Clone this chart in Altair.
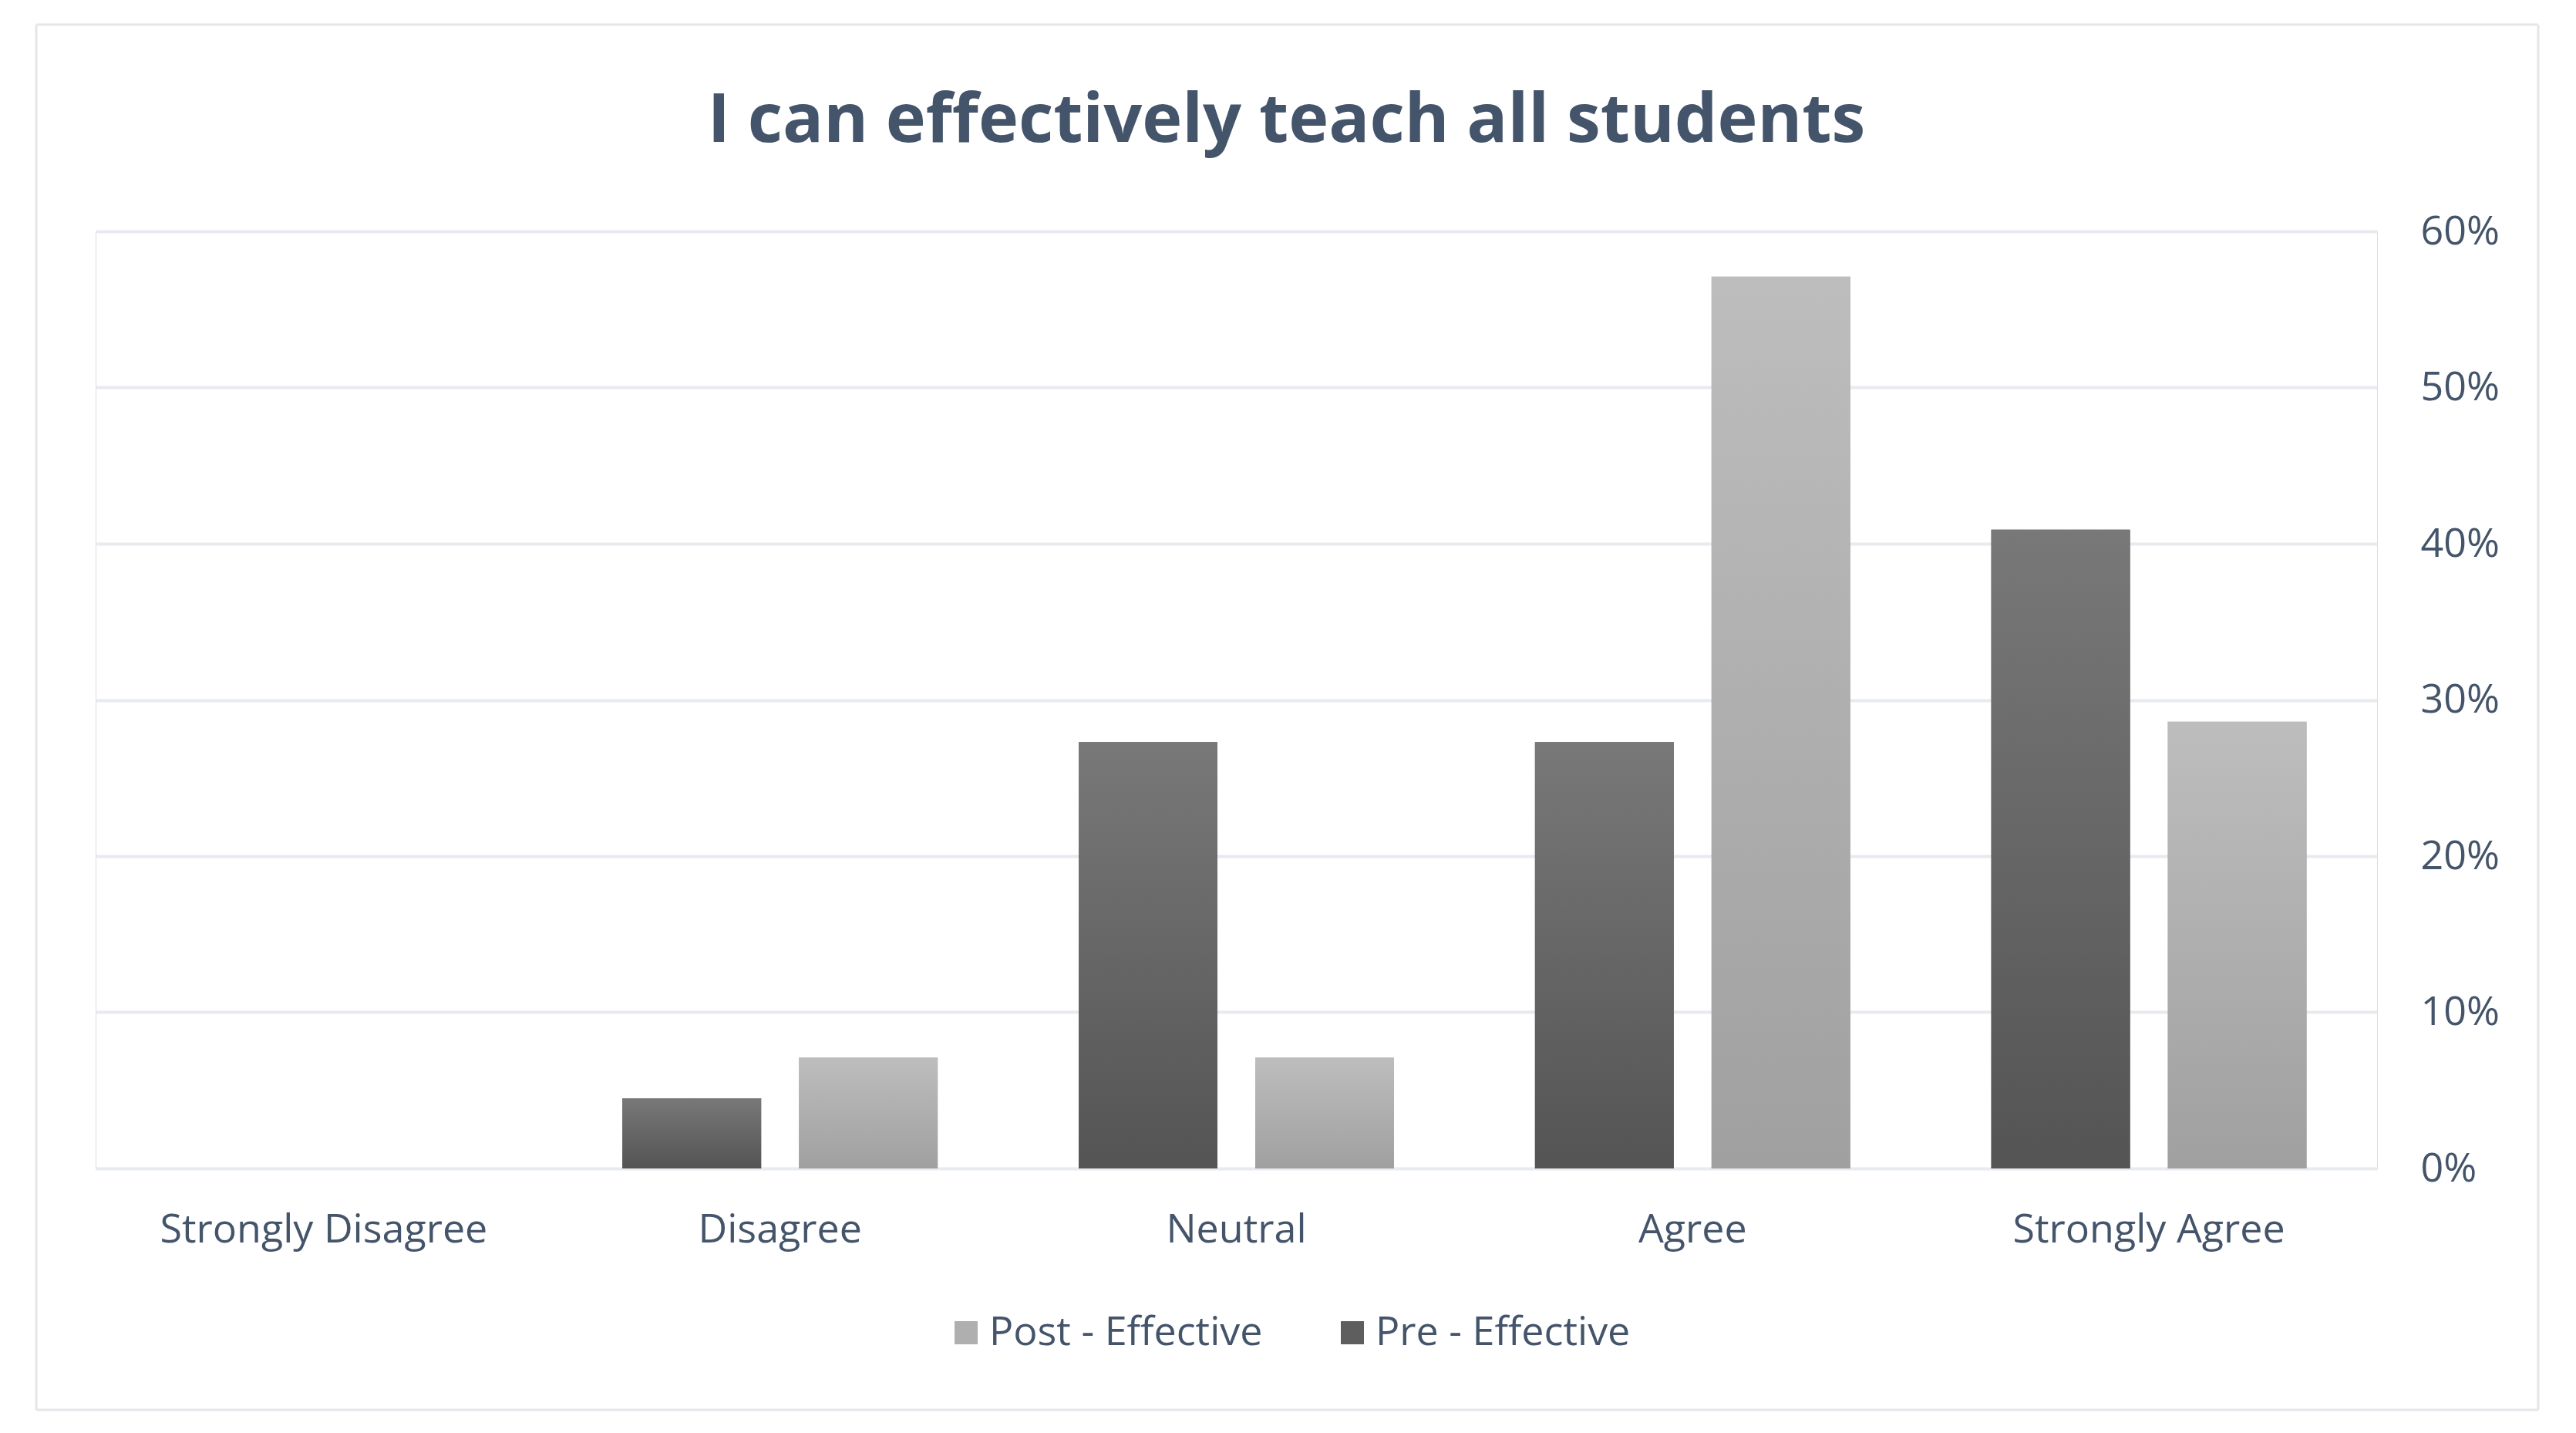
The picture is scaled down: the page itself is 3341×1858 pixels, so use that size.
import altair as alt
import pandas as pd

categories = ["Strongly Disagree", "Disagree", "Neutral", "Agree", "Strongly Agree"]
series_names = ["Pre - Effective", "Post - Effective"]
pre_values = [0.0, 0.045, 0.273, 0.273, 0.409]
post_values = [0.0, 0.071, 0.071, 0.571, 0.286]
y_ticks = [0.0, 0.1, 0.2, 0.3, 0.4, 0.5, 0.6]
title_text = "I can effectively teach all students"

rows = []
for c, a, b in zip(categories, pre_values, post_values):
    rows.append({"category": c, "series": series_names[0], "value": a})
    rows.append({"category": c, "series": series_names[1], "value": b})
df = pd.DataFrame(rows)

TEXT = "#44546A"
GRID = "#E7EAEF"
FONT = "Open Sans"
BORDER = "#E3E6EA"

W, H = 2959, 1215

x_enc = alt.X(
    "category:N",
    sort=categories,
    scale=alt.Scale(paddingInner=0.309, paddingOuter=0.1545),
    axis=alt.Axis(
        title=None, domain=False, ticks=False, labelAngle=0, labelLimit=0,
        labelPadding=54, labelFontSize=52, labelColor=TEXT, labelFont=FONT,
        grid=False, tickExtra=False,
    ),
)
xoff_enc = alt.XOffset(
    "series:N",
    sort=series_names,
    scale=alt.Scale(domain=series_names, paddingInner=0.214, paddingOuter=0),
)
y_enc = alt.Y(
    "value:Q",
    scale=alt.Scale(domain=[0, 0.6], nice=False),
    axis=alt.Axis(
        orient="right", title=None, domain=False, ticks=False,
        values=y_ticks, format=".0%", grid=True, gridColor=GRID, gridWidth=4,
        labelAlign="left", labelPadding=56, labelFontSize=52, labelLimit=0,
        labelColor=TEXT, labelFont=FONT,
    ),
)

base = alt.Chart(df)

legend_layer = base.mark_bar().encode(
    x=x_enc, xOffset=xoff_enc, y=y_enc,
    color=alt.Color(
        "series:N",
        scale=alt.Scale(domain=["Post - Effective", "Pre - Effective"],
                        range=["#AFAFAF", "#5E5E5E"]),
        legend=alt.Legend(
            title=None, orient="none", direction="horizontal",
            legendX=1103, legendY=1402, symbolType="square", symbolSize=900,
            symbolStrokeWidth=0, labelFontSize=52, labelColor=TEXT, labelLimit=0,
            labelFont=FONT, labelOffset=4, columnPadding=90, padding=0,
        ),
    ),
)

grad_pre = alt.Gradient(
    gradient="linear", x1=0, x2=0, y1=0, y2=1,
    stops=[alt.GradientStop(color="#787878", offset=0),
           alt.GradientStop(color="#545454", offset=1)],
)
grad_post = alt.Gradient(
    gradient="linear", x1=0, x2=0, y1=0, y2=1,
    stops=[alt.GradientStop(color="#BDBDBD", offset=0),
           alt.GradientStop(color="#A0A0A0", offset=1)],
)

pre_layer = base.transform_filter(alt.datum.series == series_names[0]).mark_bar(
    fill=grad_pre).encode(x=x_enc, xOffset=xoff_enc, y=y_enc)
post_layer = base.transform_filter(alt.datum.series == series_names[1]).mark_bar(
    fill=grad_post).encode(x=x_enc, xOffset=xoff_enc, y=y_enc)

one = pd.DataFrame({"b": [0]})
border_top = alt.Chart(one).mark_rule(stroke=BORDER, strokeWidth=3).encode(
    x=alt.value(-77), x2=alt.value(3168), y=alt.value(-268))
border_bottom = alt.Chart(one).mark_rule(stroke=BORDER, strokeWidth=3).encode(
    x=alt.value(-77), x2=alt.value(3168), y=alt.value(1528))
border_left = alt.Chart(one).mark_rule(stroke=BORDER, strokeWidth=3).encode(
    x=alt.value(-77), y=alt.value(-268), y2=alt.value(1528))
border_right = alt.Chart(one).mark_rule(stroke=BORDER, strokeWidth=3).encode(
    x=alt.value(3168), y=alt.value(-268), y2=alt.value(1528))

chart = alt.layer(
    border_top, border_bottom, border_left, border_right,
    legend_layer, pre_layer, post_layer,
).properties(
    width=W, height=H,
    title=alt.TitleParams(
        text=title_text, anchor="middle", frame="group", dx=65,
        baseline="alphabetic", offset=-241, fontSize=88, font=FONT,
        fontWeight="bold", color=TEXT,
    ),
    autosize=alt.AutoSizeParams(type="none"),
    padding={"left": 116, "top": 292, "right": 250, "bottom": 335},
).configure_view(
    stroke=None
).configure_axisX(
    grid=False, domain=False, ticks=False
).configure_axisY(
    domain=False, ticks=False
).configure(background="white")

chart.save("out.html", embed_options={"renderer": "svg", "actions": False})
